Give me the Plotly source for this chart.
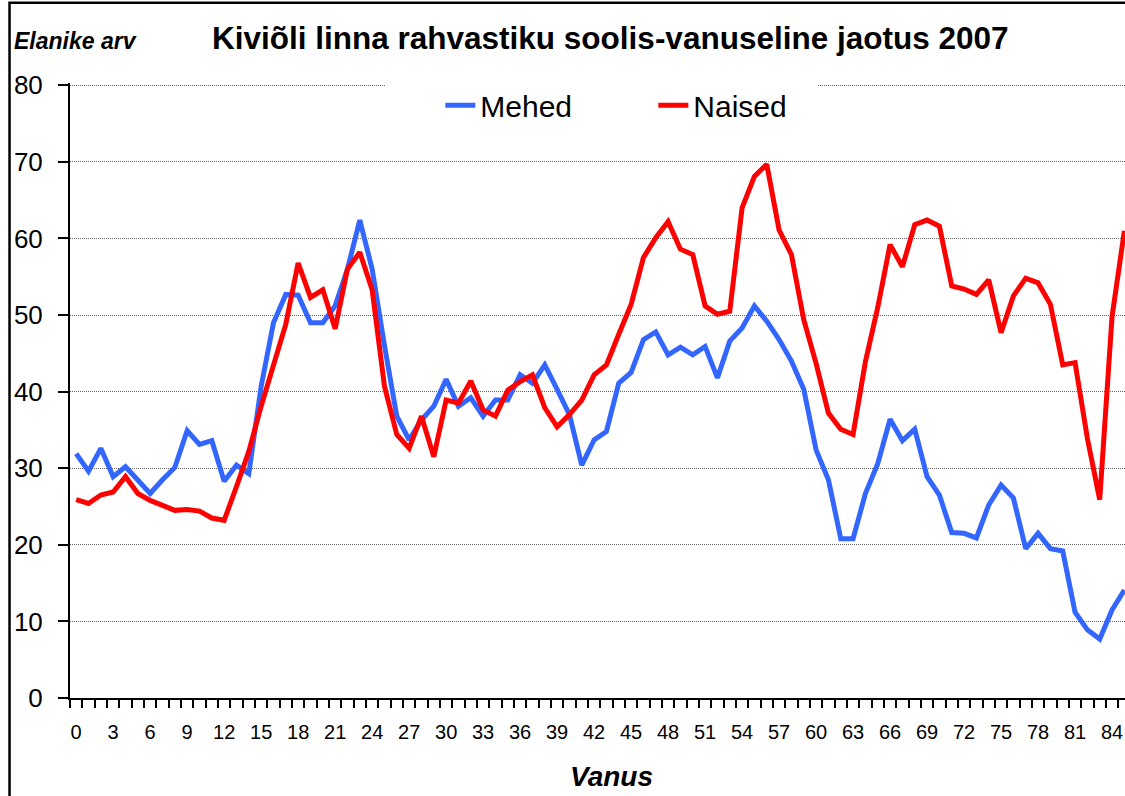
import plotly.graph_objects as go

ages = list(range(0, 86))

mehed = [31.9, 29.6, 32.6, 28.9, 30.2, 28.5, 26.7, 28.5, 30.1, 34.9,
         33.1, 33.6, 28.3, 30.4, 29.3, 40.7, 49.0, 52.7, 52.6, 49.0,
         49.0, 51.2, 56.0, 62.4, 56.0, 46.0, 36.8, 33.7, 36.3, 38.1,
         41.6, 38.1, 39.2, 36.8, 38.9, 38.9, 42.2, 41.1, 43.5, 40.3,
         37.0, 30.4, 33.7, 34.8, 41.1, 42.5, 46.8, 47.8, 44.8, 45.8,
         44.8, 45.9, 41.8, 46.6, 48.3, 51.2, 49.2, 46.8, 44.0, 40.3,
         32.4, 28.5, 20.8, 20.8, 26.7, 30.6, 36.4, 33.6, 35.1, 28.9,
         26.5, 21.6, 21.5, 20.9, 25.2, 27.8, 26.1, 19.5, 21.5, 19.5,
         19.2, 11.2, 8.9, 7.7, 11.5, 14.1]

naised = [25.9, 25.4, 26.5, 26.9, 28.9, 26.7, 25.8, 25.2, 24.5, 24.6,
          24.4, 23.5, 23.2, 27.6, 32.2, 38.1, 43.5, 48.8, 56.8, 52.3,
          53.3, 48.2, 56.0, 58.2, 53.3, 40.7, 34.4, 32.6, 36.8, 31.5,
          38.9, 38.5, 41.4, 37.6, 36.8, 40.2, 41.3, 42.2, 37.9, 35.4,
          37.0, 38.9, 42.2, 43.5, 47.5, 51.4, 57.5, 60.1, 62.2, 58.6,
          57.9, 51.2, 50.1, 50.5, 64.0, 68.1, 69.7, 61.1, 57.9, 49.4,
          43.7, 37.2, 35.1, 34.4, 43.9, 51.0, 59.2, 56.3, 61.8, 62.4,
          61.6, 53.8, 53.4, 52.7, 54.6, 47.7, 52.5, 54.8, 54.2, 51.4,
          43.5, 43.8, 33.9, 25.9, 49.8, 61.0]

x_tick_vals = list(range(0, 85, 3))
x_tick_text = [str(v) for v in x_tick_vals]
y_tick_vals = [0, 10, 20, 30, 40, 50, 60, 70, 80]

title_text = "Kiviõli linna rahvastiku soolis-vanuseline jaotus 2007"
y_title = "Elanike arv"
x_title = "Vanus"

FONT = "Arial, Liberation Sans, sans-serif"
W, H = 1125, 796
Y_TOP = 80.3
PX_PER_UNIT = 613 / 80.0
L, R, B = 69.5, 0, 98
T = 85 - (Y_TOP - 80) * PX_PER_UNIT
pw = W - L - R
ph = H - T - B


def px(xp):
    return (xp - L) / pw


def py(yp):
    return (H - B - yp) / ph


fig = go.Figure()
fig.add_trace(go.Scatter(x=ages, y=mehed, mode="lines", name="Mehed",
                         line=dict(color="#3366FF", width=5)))
fig.add_trace(go.Scatter(x=ages, y=naised, mode="lines", name="Naised",
                         line=dict(color="#FF0000", width=5)))

fig.update_layout(
    width=W, height=H,
    margin=dict(l=L, r=R, t=T, b=B, pad=0),
    paper_bgcolor="white", plot_bgcolor="white",
    font=dict(family=FONT, color="black"),
    showlegend=True,
    legend=dict(orientation="h", x=px(440), xanchor="left",
                y=py(105), yanchor="middle",
                font=dict(family=FONT, size=30, color="black"),
                bgcolor="rgba(0,0,0,0)", borderwidth=0,
                entrywidth=168, entrywidthmode="pixels"),
    xaxis=dict(range=[-0.5, 85.05], showgrid=False, zeroline=False,
               tickmode="array", tickvals=x_tick_vals, ticktext=x_tick_text,
               ticks="outside", ticklen=8, tickcolor="rgba(0,0,0,0)",
               ticklabelstandoff=7,
               tickfont=dict(family=FONT, size=20, color="black"),
               showline=True, linecolor="black", linewidth=2,
               minor=dict(tick0=-0.5, dtick=1, ticks="outside", ticklen=8,
                          tickwidth=2, tickcolor="black", showgrid=False)),
    yaxis=dict(range=[0, Y_TOP], tickmode="array", tickvals=y_tick_vals,
               showgrid=True, gridcolor="#666666", gridwidth=1,
               griddash="1px,1px", zeroline=False,
               ticks="outside", ticklen=10, tickwidth=2, tickcolor="black",
               ticklabelstandoff=10,
               tickfont=dict(family=FONT, size=26, color="black"),
               showline=True, linecolor="black", linewidth=2),
    annotations=[
        dict(text="<b>" + title_text + "</b>", xref="paper", yref="paper",
             x=px(610), y=py(38), xanchor="center", yanchor="middle",
             showarrow=False, font=dict(family=FONT, size=31.5, color="black")),
        dict(text="<b><i>" + y_title + "</i></b>", xref="paper", yref="paper",
             x=px(11), y=py(41), xanchor="left", yanchor="middle",
             showarrow=False, font=dict(family=FONT, size=23, color="black")),
        dict(text="<b><i>" + x_title + "</i></b>", xref="paper", yref="paper",
             x=px(611), y=py(777), xanchor="center", yanchor="middle",
             showarrow=False, font=dict(family=FONT, size=28, color="black")),
    ],
    shapes=[
        # white legend background band over the top gridline
        dict(type="rect", xref="paper", yref="paper",
             x0=px(385), x1=px(817), y0=py(90), y1=py(80),
             line=dict(width=0), fillcolor="white", layer="above"),
        # outer chart border (partly outside the cropped view)
        dict(type="rect", xref="paper", yref="paper",
             x0=px(9), x1=px(1140), y0=py(810), y1=py(2.5),
             line=dict(color="black", width=2.5), fillcolor="rgba(0,0,0,0)",
             layer="above"),
    ],
)

fig.write_html("out.html",
               config={"displayModeBar": False},
               post_script="document.body.style.margin='0';"
                           "document.body.style.overflow='hidden';")
